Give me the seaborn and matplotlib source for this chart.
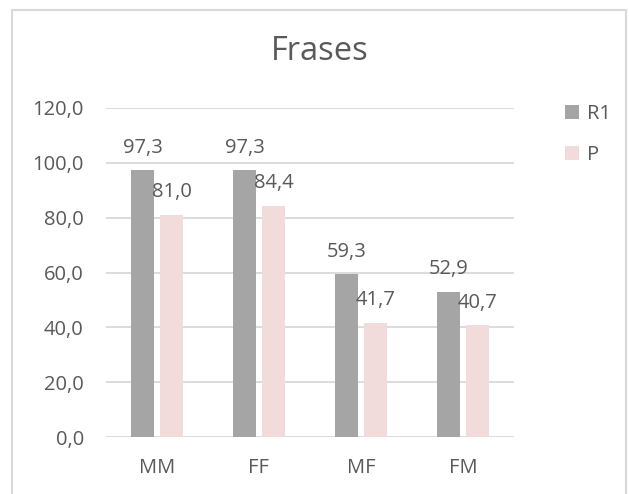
import matplotlib
matplotlib.use("Agg")
import matplotlib.pyplot as plt
import matplotlib.patches as mpatches
import seaborn as sns
import pandas as pd

categories = ["MM", "FF", "MF", "FM"]
series_names = ["R1", "P"]
r1_values = [97.3, 97.3, 59.3, 52.9]
p_values = [81.0, 84.4, 41.7, 40.7]
yticks = [0, 20, 40, 60, 80, 100, 120]
title = "Frases"

df = pd.DataFrame({
    "cat": categories * 2,
    "serie": [series_names[0]] * 4 + [series_names[1]] * 4,
    "val": r1_values + p_values,
})

sns.set_style("white")
plt.rcParams["font.family"] = ["Open Sans", "DejaVu Sans"]
txt = "#595959"
grid = "#D9D9D9"
colors = ["#A5A5A5", "#F2DCDB"]
fs = 14.5

fig = plt.figure(figsize=(6.29, 4.94), dpi=100)
ax = fig.add_axes([106 / 629, 1 - 437 / 494, 408 / 629, 329 / 494])

sns.barplot(data=df, x="cat", y="val", hue="serie", hue_order=series_names,
            order=categories, palette=colors, width=0.568, gap=0.218,
            saturation=1, ax=ax, errorbar=None, linewidth=0)

ax.set_ylim(0, 120)
ax.set_xlim(-0.5, 3.5)
ax.set_yticks(yticks)
ax.set_yticklabels([f"{v:.1f}".replace(".", ",") for v in yticks])
ax.yaxis.grid(True, color=grid, linewidth=1.3)
ax.set_axisbelow(True)
for s in ax.spines.values():
    s.set_visible(False)
ax.tick_params(axis="y", length=0, pad=16, labelsize=fs, labelcolor=txt)
ax.tick_params(axis="x", length=0, pad=15, labelsize=fs, labelcolor=txt)
ax.set_xlabel("")
ax.set_ylabel("")

for cont in ax.containers:
    ax.bar_label(cont, labels=[f"{b.get_height():.1f}".replace(".", ",") for b in cont],
                 padding=9, fontsize=fs, color=txt)

fig.text(320 / 629, 1 - 52 / 494, title, ha="center", va="center",
         fontsize=23.5, color=txt)

sns.move_legend(ax, loc="upper left", bbox_to_anchor=(547 / 629, 1 - 86 / 494),
                bbox_transform=fig.transFigure, frameon=False, title=None,
                fontsize=fs, handlelength=0.7, handleheight=0.7,
                handletextpad=0.4, labelspacing=1.05, labelcolor=txt)

border = mpatches.Rectangle((12 / 629, -0.1), 614 / 629, 1.1 - 10 / 494,
                            transform=fig.transFigure, fill=False,
                            edgecolor=grid, linewidth=1.5, clip_on=False)
fig.patches.append(border)

fig.savefig("out.png", dpi=100)
